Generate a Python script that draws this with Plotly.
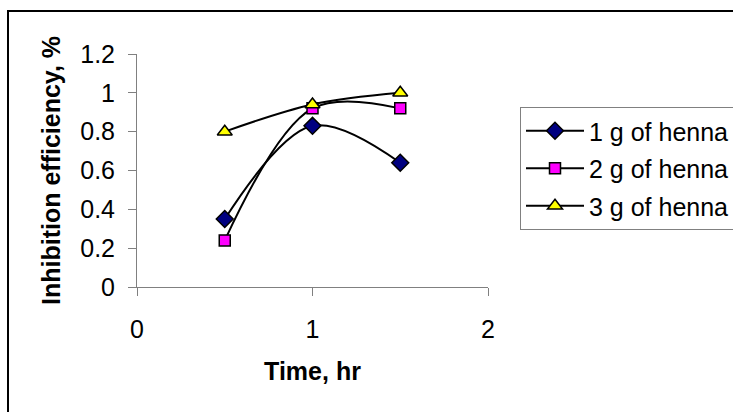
import plotly.graph_objects as go

time_hr = [0.5, 1.0, 1.5]
henna_1g = [0.35, 0.83, 0.64]
henna_2g = [0.24, 0.92, 0.92]
henna_3g = [0.80, 0.94, 1.00]
series_names = ["1 g of henna", "2 g of henna", "3 g of henna"]
x_ticks = [0, 1, 2]
y_ticks = [0, 0.2, 0.4, 0.6, 0.8, 1.0, 1.2]
y_tick_text = ["0", "0.2", "0.4", "0.6", "0.8", "1", "1.2"]

FONT = "Liberation Sans, Arial, sans-serif"

styles = [
    dict(symbol="diamond", color="#000080", size=13),
    dict(symbol="square", color="#FF00FF", size=11),
    dict(symbol="triangle-up", color="#FFFF00", size=13),
]

fig = go.Figure()
for i, (name, ys, st) in enumerate(zip(series_names, [henna_1g, henna_2g, henna_3g], styles)):
    fig.add_trace(go.Scatter(
        x=time_hr, y=ys, name=name, mode="lines+markers",
        line=dict(color="black", width=2, shape="spline", smoothing=1.0),
        marker=dict(symbol=st["symbol"], color=st["color"], size=st["size"],
                    line=dict(color="black", width=1.5)),
        legendgroup=f"g{i}", cliponaxis=False,
    ))

fig.update_layout(
    width=733, height=412,
    margin=dict(l=137, r=245, t=54, b=125, autoexpand=False),
    paper_bgcolor="white", plot_bgcolor="white",
    font=dict(family=FONT, color="black", size=24),
    showlegend=True,
    legend=dict(
        x=(520 - 137) / 351, y=(287 - 107) / 233, xanchor="left", yanchor="top",
        bordercolor="#808080", borderwidth=1, bgcolor="white",
        font=dict(family=FONT, size=25, color="black"),
        itemwidth=58, tracegroupgap=2,
    ),
    xaxis=dict(
        range=[0, 2], tickmode="array", tickvals=x_ticks,
        showgrid=False, zeroline=False, showline=True, linecolor="#808080", linewidth=1,
        ticks="outside", ticklen=8, tickcolor="#808080",
        tickfont=dict(size=25), ticklabelstandoff=12,
        title=dict(text="<b>Time, hr</b>", font=dict(size=25), standoff=20),
    ),
    yaxis=dict(
        range=[0, 1.2], tickmode="array", tickvals=y_ticks, ticktext=y_tick_text,
        showgrid=False, zeroline=False, showline=True, linecolor="#808080", linewidth=1,
        ticks="outside", ticklen=8, tickcolor="#808080",
        tickfont=dict(size=25), ticklabelstandoff=8,
        title=dict(text="<b>Inhibition efficiency, %</b>", font=dict(size=25), standoff=12),
    ),
    shapes=[dict(type="rect", xref="paper", yref="paper",
                 x0=(8 - 137) / 351, x1=2.0, y0=-2.0, y1=(287 - 11) / 233,
                 line=dict(color="black", width=2), fillcolor="rgba(0,0,0,0)", layer="below")],
)

fig.write_html("out.html")
